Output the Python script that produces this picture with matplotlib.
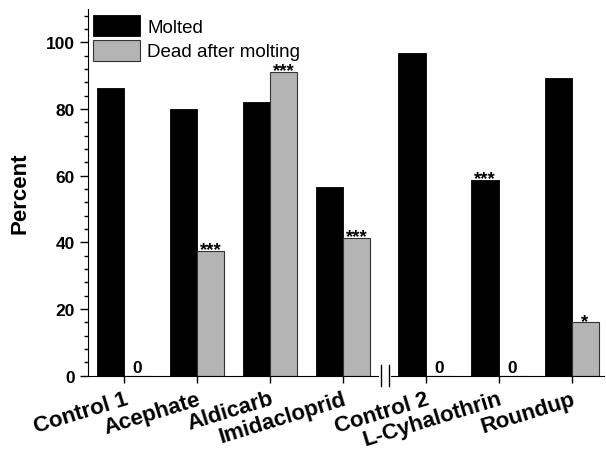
import numpy as np
import matplotlib
matplotlib.use('Agg')
import matplotlib.pyplot as plt
from matplotlib.ticker import MultipleLocator

plt.rcParams['font.family'] = 'Liberation Sans'

# Datos
treatments = ['Control 1', 'Acephate', 'Aldicarb', 'Imidacloprid',
              'Control 2', 'L-Cyhalothrin', 'Roundup']
molted = [86.2, 80.0, 82.0, 56.7, 96.7, 58.7, 89.3]
dead = [0.0, 37.5, 91.2, 41.3, 0.0, 0.0, 16.0]
molted_marks = ['', '', '', '', '', '***', '']
dead_marks = ['0', '***', '***', '***', '0', '0', '*']

# posiciones de los grupos (con hueco en el corte del eje)
pos = np.array([0, 1, 2, 3, 4.13, 5.13, 6.13])
w = 0.37

fig = plt.figure(figsize=(6.06, 4.56), dpi=100)
ax = fig.add_axes([88 / 606, 1 - 376.7 / 456, (604 - 88) / 606, 366.7 / 456])

ax.bar(pos - w / 2, molted, w, color='black', edgecolor='black', linewidth=0.6,
       label='Molted')
ax.bar(pos + w / 2, dead, w, color='#b4b4b4', edgecolor='#333333', linewidth=0.8,
       label='Dead after molting')

# marcas de significancia
for x, v, m in zip(pos, molted, molted_marks):
    if m:
        ax.text(x - w / 2, v - 2.2, m, ha='center', va='bottom', fontsize=13.5,
                fontweight='bold')
for x, v, m in zip(pos, dead, dead_marks):
    if m == '0':
        ax.text(x + w / 2, 0.3, m, ha='center', va='bottom', fontsize=12.5,
                fontweight='bold')
    elif m:
        ax.text(x + w / 2, v - 2.2, m, ha='center', va='bottom', fontsize=13.5,
                fontweight='bold')

ax.set_xlim(-0.493, 6.575)
ax.set_ylim(0, 110)
ax.yaxis.set_major_locator(MultipleLocator(20))
ax.yaxis.set_minor_locator(MultipleLocator(4))
ax.set_xticks(pos)
ax.set_xticklabels(treatments, rotation=17, ha='right', rotation_mode='anchor',
                   fontsize=16, fontweight='bold')
for lab in ax.get_yticklabels():
    lab.set_fontweight('bold')
ax.tick_params(axis='y', which='major', length=6, width=1, labelsize=12.5)
ax.tick_params(axis='y', which='minor', length=3, width=1)
ax.tick_params(axis='x', length=5, width=1, pad=4)
ax.spines['top'].set_visible(False)
ax.spines['right'].set_visible(False)
ax.set_ylabel('Percent', fontsize=16, fontweight='bold', labelpad=11)

# corte del eje x
trans = ax.get_xaxis_transform()
ax.plot([3.52, 3.625], [0, 0], color='white', linewidth=3, transform=trans,
        clip_on=False, zorder=5)
for bx in [3.516, 3.63]:
    ax.plot([bx, bx], [-0.028, 0.03], color='black', linewidth=1, transform=trans,
            clip_on=False, zorder=6)

ax.legend(loc='upper left', bbox_to_anchor=(-0.012, 1.015), frameon=False, fontsize=13.5,
          handlelength=2.5, handleheight=1.35, borderaxespad=0.2, labelspacing=0.2,
          handletextpad=0.4)

plt.savefig('out.png', dpi=100)
